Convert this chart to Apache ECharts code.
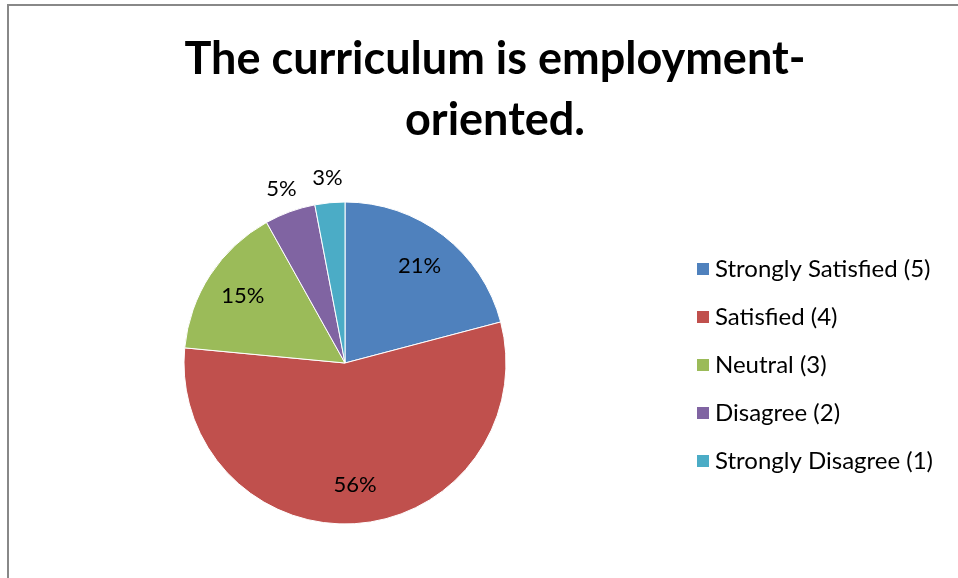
<!DOCTYPE html>
<html>
<head>
<meta charset="utf-8">
<script src="https://cdn.jsdelivr.net/npm/echarts@6/dist/echarts.min.js"></script>
<style>
html,body{margin:0;padding:0;background:#fff;}
#chart{width:958px;height:578px;}
</style>
</head>
<body>
<div id="chart"></div>
<script>
var titleText = 'The curriculum is employment-\noriented.';
var categories = ['Strongly Satisfied (5)', 'Satisfied (4)', 'Neutral (3)', 'Disagree (2)', 'Strongly Disagree (1)'];
var values = [20.9, 55.6, 15.4, 5.1, 3.0];
var colors = ['#4F81BD', '#C0504D', '#9BBB59', '#8064A2', '#4BACC6'];
var insideLabelled = [true, true, true, false, false];

var FONT = 'Lato';
var cx = 345, cy = 363, R = 161;

function pct(p) { return Math.round(p.percent) + '%'; }

var baseData = categories.map(function (c, i) {
  return { name: c, value: values[i], itemStyle: { color: colors[i] } };
});
var innerLabelData = categories.map(function (c, i) {
  return { name: c, value: values[i], label: { show: insideLabelled[i] } };
});
var outerLabelData = categories.map(function (c, i) {
  return { name: c, value: values[i], label: { show: !insideLabelled[i] } };
});

var labelStyle = { color: '#000', fontFamily: FONT, fontSize: 22, formatter: pct };

var chart = echarts.init(document.getElementById('chart'), null, { renderer: 'canvas' });
chart.setOption({
  backgroundColor: '#fff',
  animation: false,
  color: colors,
  title: {
    text: titleText,
    left: 490,
    top: 24,
    textAlign: 'center',
    textStyle: { fontFamily: FONT, fontWeight: 'bold', fontSize: 45, color: '#000', lineHeight: 61 }
  },
  graphic: [{
    type: 'rect',
    shape: { x: 8, y: 5, width: 1200, height: 1200 },
    style: { fill: 'none', stroke: '#888', lineWidth: 2 },
    silent: true, z: -1
  }],
  legend: {
    orient: 'vertical',
    left: 690,
    top: 252,
    itemWidth: 14,
    itemHeight: 14,
    itemGap: 24,
    icon: 'rect',
    data: categories,
    textStyle: { fontFamily: FONT, fontSize: 24, color: '#000', lineHeight: 24 }
  },
  series: [{
    type: 'pie',
    center: [cx, cy],
    radius: [0, R],
    startAngle: 90,
    clockwise: true,
    data: baseData,
    label: { show: false },
    labelLine: { show: false },
    itemStyle: { borderColor: '#fff', borderWidth: 1 },
    emphasis: { disabled: true }
  }, {
    type: 'pie',
    center: [cx, cy],
    radius: [R * 0.48, R],
    startAngle: 90,
    clockwise: true,
    silent: true,
    data: innerLabelData,
    itemStyle: { color: 'rgba(0,0,0,0)' },
    label: Object.assign({ position: 'inside' }, labelStyle),
    labelLine: { show: false },
    emphasis: { disabled: true }
  }, {
    type: 'pie',
    center: [cx, cy],
    radius: [R, R * 1.27],
    startAngle: 90,
    clockwise: true,
    silent: true,
    data: outerLabelData,
    itemStyle: { color: 'rgba(0,0,0,0)' },
    label: Object.assign({ position: 'inside' }, labelStyle),
    labelLine: { show: false },
    emphasis: { disabled: true }
  }]
});
</script>
</body>
</html>
